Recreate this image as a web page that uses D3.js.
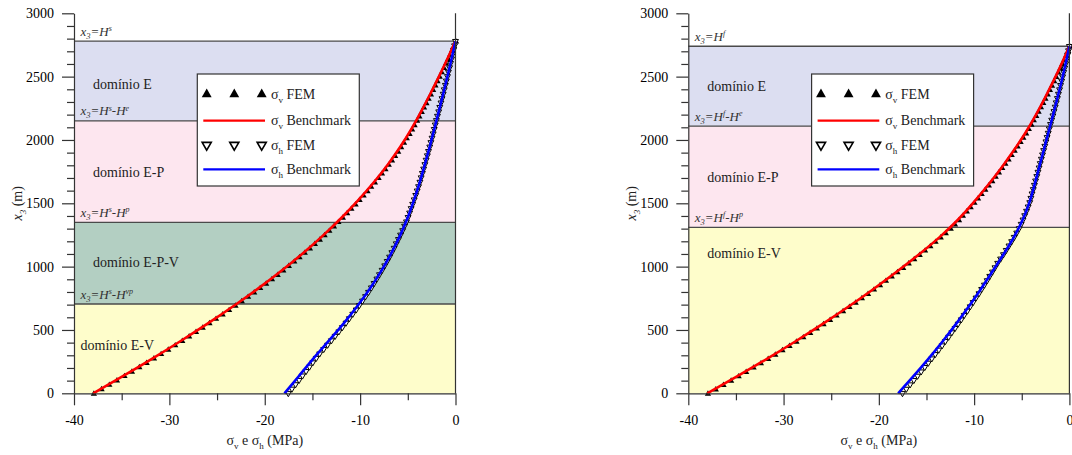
<!DOCTYPE html>
<html>
<head>
<meta charset="utf-8">
<script src="https://cdn.jsdelivr.net/npm/d3@7"></script>
<style>
  body { margin: 0; background: #fff; }
  svg { display: block; }
</style>
</head>
<body>
<svg id="fig" width="1072" height="455"></svg>
<script>
// ---------- axes ----------
const xMajorTicks = [-40, -30, -20, -10, 0];
const xMinorTicks = [-35, -25, -15, -5];
const yMajorTicks = [0, 500, 1000, 1500, 2000, 2500, 3000];
const yMinorTicks = [100, 200, 300, 400, 600, 700, 800, 900, 1100, 1200, 1300, 1400,
                     1600, 1700, 1800, 1900, 2100, 2200, 2300, 2400, 2600, 2700, 2800, 2900];

// ---------- left model (top at Hs) ----------
const leftDomains = ["domínio E-V", "domínio E-P-V", "domínio E-P", "domínio E"];
const leftBounds = [0, 705, 1350, 2150, 2780];           // x3 (m) of domain limits
const leftBoundSup = [["s", "vp"], ["s", "p"], ["s", "e"], ["s"]];

const leftDepthFEM = [0,35,70,104,139,174,209,243,278,313,348,382,417,452,487,521,556,591,626,660,
  695,730,765,799,834,869,904,938,973,1008,1043,1077,1112,1147,1182,1216,1251,1286,1321,1355,
  1390,1425,1460,1494,1529,1564,1599,1633,1668,1703,1738,1772,1807,1842,1877,1911,1946,1981,2016,2050,
  2085,2120,2155,2189,2224,2259,2294,2328,2363,2398,2433,2467,2502,2537,2572,2606,2641,2676,2711,2745,2780];
const leftSigmaVFEM = [-37.98,-37.17,-36.36,-35.56,-34.77,-33.99,-33.21,-32.45,-31.68,-30.93,
  -30.18,-29.45,-28.71,-27.99,-27.27,-26.57,-25.86,-25.17,-24.48,-23.80,
  -23.13,-22.47,-21.81,-21.17,-20.54,-19.92,-19.31,-18.71,-18.12,-17.54,
  -16.97,-16.42,-15.87,-15.33,-14.81,-14.29,-13.79,-13.29,-12.81,-12.34,
  -11.87,-11.42,-10.98,-10.54,-10.12,-9.70,-9.29,-8.90,-8.51,-8.13,
  -7.77,-7.41,-7.06,-6.72,-6.39,-6.07,-5.76,-5.46,-5.17,-4.88,
  -4.61,-4.35,-4.09,-3.85,-3.60,-3.36,-3.11,-2.88,-2.64,-2.41,
  -2.17,-1.95,-1.72,-1.50,-1.27,-1.06,-0.84,-0.63,-0.42,-0.21,0];
const leftSigmaHFEM = [-17.53,-17.15,-16.77,-16.40,-16.04,-15.67,-15.31,-14.96,-14.60,-14.24,
  -13.82,-13.41,-13.01,-12.62,-12.23,-11.86,-11.48,-11.13,-10.77,-10.41,
  -10.08,-9.75,-9.43,-9.12,-8.82,-8.53,-8.24,-7.97,-7.69,-7.42,
  -7.16,-6.91,-6.67,-6.43,-6.21,-5.98,-5.76,-5.54,-5.34,-5.14,
  -4.97,-4.81,-4.65,-4.49,-4.33,-4.17,-4.02,-3.87,-3.73,-3.60,
  -3.47,-3.34,-3.21,-3.08,-2.95,-2.83,-2.70,-2.58,-2.46,-2.34,
  -2.23,-2.12,-2.00,-1.89,-1.76,-1.65,-1.52,-1.41,-1.29,-1.18,
  -1.06,-0.96,-0.84,-0.74,-0.62,-0.52,-0.41,-0.31,-0.21,-0.10,0];
const leftDepthBench = [0,139,278,417,556,695,834,973,1112,1251,1390,1529,1668,1807,1946,2085,2224,2363,2502,2641,2780];
const leftSigmaVBench = [-37.98,-34.77,-31.68,-28.71,-25.86,-23.13,-20.54,-18.12,-15.87,-13.79,
  -11.87,-10.12,-8.51,-7.06,-5.76,-4.61,-3.60,-2.64,-1.72,-0.84,0];
const leftSigmaHBench = [-17.93,-16.38,-14.89,-13.24,-11.66,-10.20,-8.89,-7.70,-6.67,-5.76,
  -4.97,-4.33,-3.73,-3.21,-2.70,-2.23,-1.76,-1.29,-0.84,-0.41,0];

// ---------- right model (top at Hf) ----------
const rightDomains = ["domínio E-V", "domínio E-P", "domínio E"];
const rightBounds = [0, 1310, 2110, 2740];
const rightBoundSup = [["f", "p"], ["f", "e"], ["f"]];

const rightDepthFEM = [0,34,69,103,137,171,206,240,274,308,343,377,411,445,480,514,548,582,617,651,
  685,719,754,788,822,856,891,925,959,993,1028,1062,1096,1130,1165,1199,1233,1267,1302,1336,
  1370,1404,1439,1473,1507,1541,1576,1610,1644,1678,1713,1747,1781,1815,1850,1884,1918,1952,1987,2021,
  2055,2089,2124,2158,2192,2226,2261,2295,2329,2363,2398,2432,2466,2500,2535,2569,2603,2637,2672,2706,2740];
const rightSigmaVFEM = [-38.00,-37.18,-36.37,-35.57,-34.78,-33.99,-33.21,-32.44,-31.68,-30.93,
  -30.18,-29.44,-28.71,-27.99,-27.27,-26.57,-25.87,-25.18,-24.50,-23.82,
  -23.15,-22.50,-21.84,-21.20,-20.57,-19.94,-19.32,-18.71,-18.11,-17.51,
  -16.93,-16.35,-15.78,-15.21,-14.66,-14.11,-13.57,-13.04,-12.52,-12.07,
  -11.65,-11.24,-10.83,-10.43,-10.03,-9.65,-9.27,-8.89,-8.52,-8.16,
  -7.80,-7.46,-7.11,-6.78,-6.45,-6.12,-5.81,-5.50,-5.19,-4.90,
  -4.60,-4.32,-4.05,-3.80,-3.54,-3.30,-3.05,-2.81,-2.58,-2.34,
  -2.11,-1.89,-1.66,-1.44,-1.22,-1.01,-0.80,-0.59,-0.39,-0.19,0];
const rightSigmaHFEM = [-17.52,-17.12,-16.72,-16.33,-15.94,-15.56,-15.18,-14.81,-14.44,-14.08,
  -13.71,-13.36,-13.02,-12.67,-12.34,-12.00,-11.68,-11.35,-11.04,-10.71,
  -10.41,-10.10,-9.80,-9.49,-9.21,-8.92,-8.63,-8.36,-8.08,-7.81,
  -7.53,-7.22,-6.92,-6.63,-6.34,-6.06,-5.79,-5.53,-5.27,-5.06,
  -4.87,-4.69,-4.50,-4.33,-4.16,-4.04,-3.92,-3.79,-3.67,-3.55,
  -3.42,-3.30,-3.18,-3.06,-2.94,-2.82,-2.70,-2.58,-2.46,-2.34,
  -2.22,-2.11,-1.98,-1.86,-1.73,-1.62,-1.49,-1.38,-1.26,-1.15,
  -1.03,-0.93,-0.81,-0.71,-0.60,-0.49,-0.39,-0.29,-0.19,-0.09,0];
const rightDepthBench = [0,137,274,411,548,685,822,959,1096,1233,1370,1507,1644,1781,1918,2055,2192,2329,2466,2603,2740];
const rightSigmaVBench = [-38.00,-34.78,-31.68,-28.71,-25.87,-23.15,-20.57,-18.11,-15.78,-13.57,
  -11.65,-10.03,-8.52,-7.11,-5.81,-4.60,-3.54,-2.58,-1.66,-0.80,0];
const rightSigmaHBench = [-17.97,-16.33,-14.77,-13.28,-11.88,-10.55,-9.29,-8.10,-6.92,-5.79,
  -4.87,-4.16,-3.67,-3.18,-2.70,-2.22,-1.73,-1.26,-0.81,-0.39,0];

// legend entries: [symbol, subscript, rest]
const legendLabels = [["σ", "v", " FEM"], ["σ", "v", " Benchmark"], ["σ", "h", " FEM"], ["σ", "h", " Benchmark"]];

// ---------- styling / layout ----------
const FONT = "'Liberation Serif'";
const domainFill = {
  "domínio E": "#dcdef1",
  "domínio E-P": "#fde6ef",
  "domínio E-P-V": "#b3cfc2",
  "domínio E-V": "#fefdcb"
};
const plotTop = 13.3, plotBottom = 393.3;
const panels = [
  { left: 74, right: 455.5, domains: leftDomains, bounds: leftBounds, sup: leftBoundSup,
    labelAt: [380, 1040, 1745, 2440], labelDx: [6.5, 19, 19, 19],
    dFEM: leftDepthFEM, vFEM: leftSigmaVFEM, hFEM: leftSigmaHFEM,
    dB: leftDepthBench, vB: leftSigmaVBench, hB: leftSigmaHBench },
  { left: 688.3, right: 1069.4, domains: rightDomains, bounds: rightBounds, sup: rightBoundSup,
    labelAt: [1105, 1710, 2430], labelDx: [19, 19, 19],
    dFEM: rightDepthFEM, vFEM: rightSigmaVFEM, hFEM: rightSigmaHFEM,
    dB: rightDepthBench, vB: rightSigmaVBench, hB: rightSigmaHBench }
];

const svg = d3.select("#fig");
const upTri = d3.symbol().type(d3.symbolTriangle);

function txt(sel) {
  return sel.append("text").style("font-family", FONT);
}

function styleAxisText(sel) {
  sel.selectAll("text").style("font-family", FONT)
    .attr("font-size", 14).attr("fill", "#000");
}

function boundaryLabel(g, x, y, sup) {
  const t = txt(g).attr("x", x).attr("y", y)
    .attr("font-style", "italic").attr("font-size", 13).attr("fill", "#333");
  t.append("tspan").text("x");
  t.append("tspan").attr("font-size", 8.5).attr("dy", 3).text("3");
  t.append("tspan").attr("dy", -3).text("=H");
  t.append("tspan").attr("font-size", 8).attr("dy", -4.5).text(sup[0]);
  if (sup.length > 1) {
    t.append("tspan").attr("dy", 4.5).text("-H");
    t.append("tspan").attr("font-size", 8).attr("dy", -4.5).text(sup[1]);
  }
}

function drawPanel(p) {
  const x = d3.scaleLinear().domain([-40, 0]).range([p.left, p.right]);
  const y = d3.scaleLinear().domain([0, 3000]).range([plotBottom, plotTop]);
  const g = svg.append("g");

  // domain bands
  p.domains.forEach((name, i) => {
    g.append("rect")
      .attr("x", x(-40)).attr("width", x(0) - x(-40))
      .attr("y", y(p.bounds[i + 1])).attr("height", y(p.bounds[i]) - y(p.bounds[i + 1]))
      .attr("fill", domainFill[name]);
  });
  // limits between domains and the top surface
  p.bounds.slice(1).forEach((b, i) => {
    g.append("line")
      .attr("x1", x(-40)).attr("x2", x(0)).attr("y1", y(b)).attr("y2", y(b))
      .attr("stroke", "#4a4a4a").attr("stroke-width", 1.3);
    boundaryLabel(g, x(-40) + 6.5, y(b) - 5.5, p.sup[i]);
  });
  // domain names
  p.domains.forEach((name, i) => {
    txt(g).attr("x", x(-40) + p.labelDx[i]).attr("y", y(p.labelAt[i]) + 5)
      .attr("font-size", 14).attr("fill", "#222").text(name);
  });

  // FEM markers
  const fem = p.dFEM.map((d, i) => ({ d, v: p.vFEM[i], h: p.hFEM[i] }));
  g.append("g").selectAll("path").data(fem).join("path")
    .attr("d", upTri.size(17)())
    .attr("transform", d => `translate(${x(d.v) + 0.6},${y(d.d) + 0.6})`)
    .attr("fill", "#000");
  g.append("g").selectAll("path").data(fem).join("path")
    .attr("d", d3.symbol().type(d3.symbolTriangle).size(15)())
    .attr("transform", d => `translate(${x(d.h)},${y(d.d)}) rotate(180)`)
    .attr("fill", "#fff").attr("stroke", "#000").attr("stroke-width", 1);

  // benchmark curves
  const bench = p.dB.map((d, i) => ({ d, v: p.vB[i], h: p.hB[i] }));
  const lineV = d3.line().x(d => x(d.v)).y(d => y(d.d)).curve(d3.curveBasis);
  const lineH = d3.line().x(d => x(d.h)).y(d => y(d.d)).curve(d3.curveBasis);
  g.append("path").datum(bench).attr("d", lineV)
    .attr("fill", "none").attr("stroke", "#ff0000").attr("stroke-width", 2.6);
  g.append("path").datum(bench).attr("d", lineH)
    .attr("fill", "none").attr("stroke", "#0000ff").attr("stroke-width", 2.6);

  // right frame line
  g.append("line").attr("x1", x(0)).attr("x2", x(0)).attr("y1", y(0)).attr("y2", y(3000))
    .attr("stroke", "#333").attr("stroke-width", 1.2);

  // x axis
  const xa = g.append("g").attr("transform", `translate(0,${y(0)})`).style("color", "#333")
    .call(d3.axisBottom(x).tickValues(xMajorTicks).tickSize(12).tickSizeOuter(0)
      .tickPadding(10).tickFormat(d => String(d)));
  styleAxisText(xa);
  g.append("g").attr("transform", `translate(0,${y(0)})`).style("color", "#333")
    .call(d3.axisBottom(x).tickValues(xMinorTicks).tickSize(7).tickSizeOuter(0).tickFormat(""))
    .select(".domain").remove();
  // y axis
  const ya = g.append("g").attr("transform", `translate(${x(-40)},0)`).style("color", "#333")
    .call(d3.axisLeft(y).tickValues(yMajorTicks).tickSize(12).tickSizeOuter(0).tickPadding(8)
      .tickFormat(d => String(d)));
  styleAxisText(ya);
  g.append("g").attr("transform", `translate(${x(-40)},0)`).style("color", "#333")
    .call(d3.axisLeft(y).tickValues(yMinorTicks).tickSize(7).tickSizeOuter(0).tickFormat(""))
    .select(".domain").remove();
  g.selectAll(".domain, .tick line").attr("stroke-width", 1.2);

  // axis titles
  const xt = txt(g).attr("x", (x(-40) + x(0)) / 2).attr("y", 445)
    .attr("text-anchor", "middle").attr("font-size", 14).attr("fill", "#222");
  xt.append("tspan").text("σ");
  xt.append("tspan").attr("font-size", 9).attr("dy", 4).text("v");
  xt.append("tspan").attr("dy", -4).text(" e σ");
  xt.append("tspan").attr("font-size", 9).attr("dy", 4).text("h");
  xt.append("tspan").attr("dy", -4).text(" (MPa)");

  const yt = txt(g)
    .attr("transform", `translate(${x(-40) - 52},${(plotTop + plotBottom) / 2}) rotate(-90)`)
    .attr("text-anchor", "middle").attr("font-size", 14).attr("fill", "#222");
  yt.append("tspan").attr("font-style", "italic").text("x");
  yt.append("tspan").attr("font-style", "italic").attr("font-size", 9).attr("dy", 4).text("3");
  yt.append("tspan").attr("dy", -4).text(" (m)");

  // legend
  const bx = x(-40) + 123.3, by = 74;
  const lg = g.append("g").attr("transform", `translate(${bx},${by})`);
  lg.append("rect").attr("width", 162).attr("height", 112)
    .attr("fill", "#fff").attr("stroke", "#333").attr("stroke-width", 1.2);
  const rowY = [20.3, 46.7, 71, 95.3];
  const mx = [9.4, 37, 64.4];
  mx.forEach(m => lg.append("path").attr("d", upTri.size(42)())
    .attr("transform", `translate(${m},${rowY[0]})`).attr("fill", "#000"));
  mx.forEach(m => lg.append("path").attr("d", d3.symbol().type(d3.symbolTriangle).size(36)())
    .attr("transform", `translate(${m},${rowY[2]}) rotate(180)`)
    .attr("fill", "#fff").attr("stroke", "#000").attr("stroke-width", 1.6));
  lg.append("line").attr("x1", 6).attr("x2", 67.7).attr("y1", rowY[1]).attr("y2", rowY[1])
    .attr("stroke", "#ff0000").attr("stroke-width", 2.2);
  lg.append("line").attr("x1", 6).attr("x2", 67.7).attr("y1", rowY[3]).attr("y2", rowY[3])
    .attr("stroke", "#0000ff").attr("stroke-width", 2.2);
  legendLabels.forEach((parts, i) => {
    const t = txt(lg).attr("x", 73.7).attr("y", rowY[i] + 4.5)
      .attr("font-size", 14).attr("fill", "#222");
    t.append("tspan").text(parts[0]);
    t.append("tspan").attr("font-size", 9).attr("dy", 4).text(parts[1]);
    t.append("tspan").attr("dy", -4).text(parts[2]);
  });
}

panels.forEach(drawPanel);
</script>
</body>
</html>
